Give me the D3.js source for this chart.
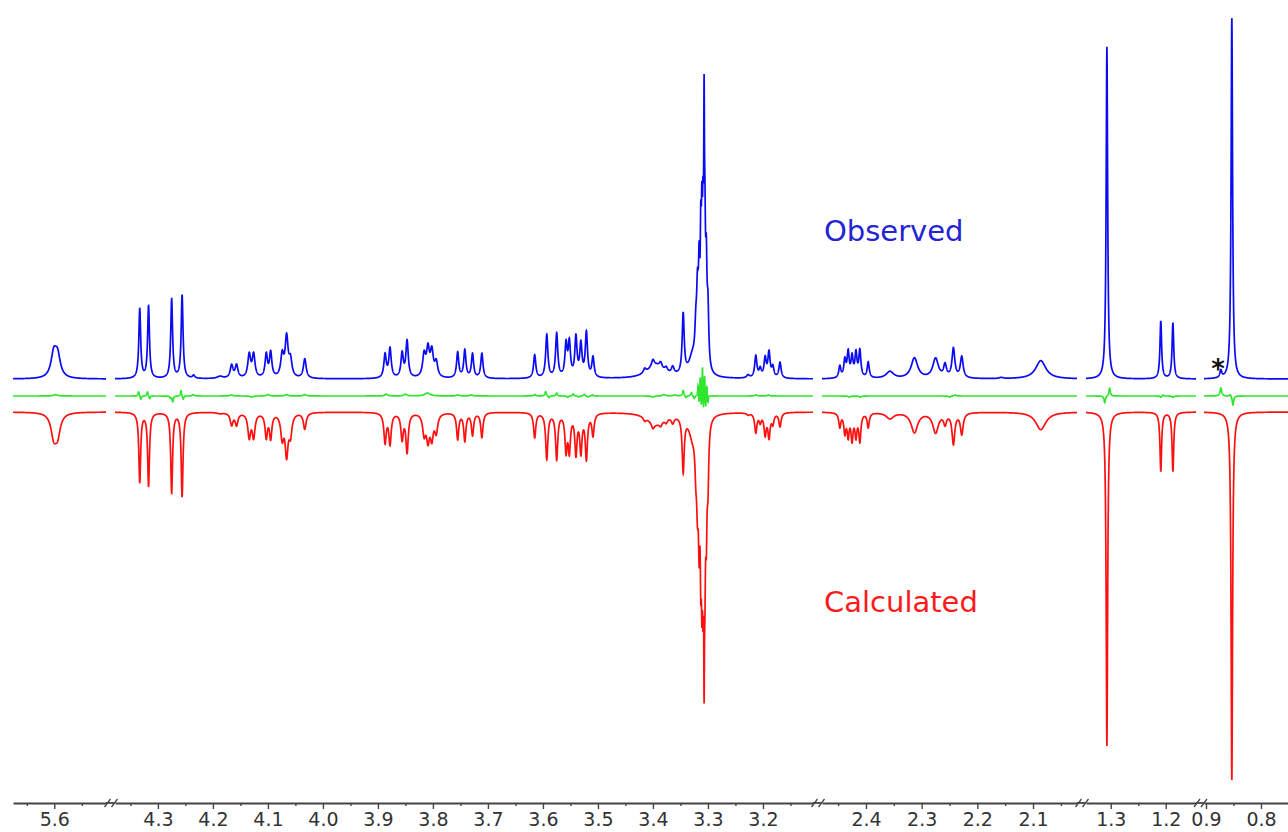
<!DOCTYPE html>
<html>
<head>
<meta charset="utf-8">
<script src="https://cdn.jsdelivr.net/npm/d3@7/dist/d3.min.js"></script>
<style>
  body { margin: 0; background: #fff; }
  svg { display: block; font-family: "DejaVu Sans", Verdana, sans-serif; }
</style>
</head>
<body>
<svg id="nmr" width="1288" height="832"></svg>
<script>
// chemical shift window (ppm) of each axis piece
var segmentPpm = [[5.675, 5.506], [4.378, 3.109], [2.479, 2.021], [1.345, 1.145], [0.9036, 0.7509]];

// tick labels and minor ticks per piece
var segmentTicks = [[5.6], [4.3, 4.2, 4.1, 4.0, 3.9, 3.8, 3.7, 3.6, 3.5, 3.4, 3.3, 3.2], [2.4, 2.3, 2.2, 2.1], [1.3, 1.2], [0.9, 0.8]];
var segmentMinor = [[5.65, 5.55], [4.35, 4.25, 4.15, 4.05, 3.95, 3.85, 3.75, 3.65, 3.55, 3.45, 3.35, 3.25, 3.15], [2.45, 2.35, 2.25, 2.15, 2.05], [1.25], [0.85]];

// peaks: [ppm, observed %, calculated %, half width ppm]
var peaks56 = [
  [5.601, 6.3, 6.0, 0.006], [5.594, 5.8, 5.6, 0.006]
];
var peaks43 = [
  [4.333, 19.0, 19.0, 0.002], [4.317, 19.8, 20.0, 0.002], [4.275, 21.7, 22.0, 0.002], [4.256, 22.8, 23.0, 0.002],
  [4.235, 0.8, 0, 0.0024], [4.187, 0.6, 0.3, 0.006],
  [4.166, 3.5, 3.3, 0.003], [4.157, 3.5, 3.3, 0.003], [4.134, 6.3, 6.5, 0.003], [4.126, 6.3, 6.5, 0.003],
  [4.103, 6.3, 6.5, 0.0026], [4.095, 6.8, 6.7, 0.0026], [4.074, 6.0, 6.5, 0.0032], [4.066, 10.8, 11.0, 0.0032],
  [4.059, 4.5, 5.5, 0.0032], [4.033, 5.3, 4.5, 0.003],
  [3.887, 6.4, 8.0, 0.0026], [3.878, 8.0, 8.4, 0.0026], [3.856, 6.6, 7.0, 0.0026], [3.847, 10.0, 10.6, 0.0026],
  [3.816, 6.0, 5.5, 0.0032], [3.809, 7.3, 6.8, 0.0032], [3.802, 6.8, 6.4, 0.0032], [3.794, 4.0, 5.0, 0.0032],
  [3.755, 7.0, 7.2, 0.0024], [3.742, 7.6, 7.6, 0.0024], [3.728, 6.6, 6.1, 0.0024], [3.711, 6.8, 6.8, 0.0024],
  [3.615, 6.4, 6.8, 0.0024], [3.593, 11.8, 12.6, 0.0024], [3.575, 12.0, 12.5, 0.0024], [3.558, 8.8, 9.8, 0.0024],
  [3.552, 9.2, 9.8, 0.0024], [3.540, 10.8, 10.8, 0.0024], [3.531, 8.8, 10.2, 0.0024], [3.521, 12.2, 12.2, 0.0024],
  [3.509, 5.5, 6.0, 0.0024],
  [3.395, 3.5, 3.0, 0.018], [3.415, 1.2, 1.0, 0.003], [3.400, 1.8, 1.5, 0.003], [3.386, 1.5, 1.2, 0.003],
  [3.376, 1.2, 1.2, 0.003], [3.364, 2.0, 1.8, 0.003], [3.345, 16.5, 15.0, 0.0022], [3.328, 5.0, 5.5, 0.008],
  [3.322, 8, 9, 0.002], [3.319, 18, 18, 0.002], [3.316, 22, 26, 0.0015], [3.313, 28, 30, 0.0012],
  [3.311, 30, 33, 0.0012], [3.309, 30, 34, 0.0012], [3.307, 55, 49, 0.0008], [3.3055, 28, 30, 0.0012],
  [3.303, 25, 25, 0.0015], [3.300, 15, 15, 0.0018],
  [3.227, 0.8, 0.5, 0.003], [3.213, 6.0, 5.3, 0.0024], [3.205, 2.3, 2.3, 0.0024], [3.196, 5.2, 5.7, 0.0024],
  [3.189, 6.8, 6.4, 0.0024], [3.182, 2.8, 2.8, 0.0024], [3.169, 4.3, 3.8, 0.0024]
];
var peaks24 = [
  [2.447, 3.2, 3.8, 0.0022], [2.438, 4.7, 5.2, 0.0022], [2.432, 6.8, 6.0, 0.0022], [2.425, 5.5, 7.0, 0.0022],
  [2.418, 6.5, 6.0, 0.0022], [2.411, 7.3, 7.5, 0.0022], [2.396, 4.3, 4.0, 0.0022],
  [2.357, 1.9, 1.7, 0.008], [2.313, 5.6, 5.5, 0.007], [2.275, 5.4, 5.5, 0.006], [2.258, 3.4, 2.8, 0.003],
  [2.243, 8.0, 8.4, 0.003], [2.228, 5.8, 5.8, 0.003], [2.157, 0.3, 0, 0.004], [2.086, 5.0, 4.8, 0.011]
];
var peaks13 = [
  [1.307, 91.0, 91.5, 0.0016], [1.209, 15.8, 16.2, 0.0018], [1.187, 15.3, 16.2, 0.0018]
];
var peaks09 = [
  [0.873, 2.0, 0, 0.002], [0.853, 99.0, 101.0, 0.0016]
];

// residual (observed - calculated) features: [ppm, %, half width ppm]
var residualLines = [
  [5.598, 0.4, 0.004],
  [4.335, 1.2, 0.0012], [4.331, -1.0, 0.0012], [4.319, 1.2, 0.0012], [4.315, -0.8, 0.0012],
  [4.277, -0.6, 0.0012], [4.273, -1.6, 0.0012], [4.258, 1.5, 0.0012], [4.254, -1.0, 0.0012],
  [4.236, 0.4, 0.002], [4.166, 0.3, 0.003], [4.13, -0.3, 0.003], [4.1, 0.4, 0.003], [4.066, 0.4, 0.003], [4.033, 0.4, 0.003],
  [3.885, 0.5, 0.003], [3.85, 0.5, 0.003], [3.81, 0.8, 0.006], [3.755, 0.3, 0.003], [3.73, 0.3, 0.003],
  [3.615, 0.4, 0.002], [3.595, 1.2, 0.0015], [3.589, -0.5, 0.0015], [3.575, 0.8, 0.0015], [3.555, -0.4, 0.0015],
  [3.545, 0.6, 0.0015], [3.535, -0.3, 0.0015], [3.525, 0.5, 0.0015], [3.518, -0.3, 0.0015], [3.51, 0.3, 0.0015],
  [3.40, -0.3, 0.003], [3.38, 0.4, 0.003], [3.36, 0.3, 0.003], [3.345, 1.5, 0.0015], [3.340, -0.6, 0.0015],
  [3.330, 1.0, 0.0015], [3.325, -0.8, 0.0015],
  [3.318, 3.0, 0.0007], [3.316, -2.5, 0.0007], [3.314, 5.5, 0.0007], [3.312, -3.8, 0.0007], [3.310, 8.5, 0.0007],
  [3.308, -4.4, 0.0007], [3.306, 6.0, 0.0007], [3.304, -3.5, 0.0007], [3.302, 3.0, 0.0007], [3.300, -2.0, 0.0007],
  [3.213, 0.3, 0.002], [3.19, 0.3, 0.002],
  [2.43, -0.3, 0.002], [2.41, -0.3, 0.002], [2.25, -0.3, 0.002], [2.24, 0.3, 0.002],
  [1.311, -1.9, 0.0015], [1.302, 2.2, 0.0015], [1.209, -0.4, 0.0015], [1.205, 0.3, 0.0015], [1.187, -0.4, 0.0015],
  [0.873, 2.2, 0.0018], [0.856, 0.5, 0.0015], [0.851, -2.5, 0.0015]
];

var segmentPeaks = [peaks56, peaks43, peaks24, peaks13, peaks09];

//Layout
var segX = [[13, 106], [115, 813], [822, 1077], [1086, 1196], [1204, 1288]];
var yObs = 379, yRes = 396, yCalc = 412, axisY = 803;
var amp = d3.scaleLinear().domain([0, 100]).range([0, 365]);

var svg = d3.select("#nmr");

//Sum of Lorentzian lines at a shift
function lorentz(ppm, list, col, wcol) {
  var s = 0;
  for (var i = 0; i < list.length; i++) {
    var d = (ppm - list[i][0]) / list[i][wcol];
    s += list[i][col] / (1 + d * d);
  }
  return s;
}

var traces = svg.append("g");
var axes = svg.append("g").attr("transform", "translate(0," + axisY + ")");

segmentPpm.forEach(function(dom, i) {
  var x = d3.scaleLinear().domain(dom).range(segX[i]);
  var n = Math.round((segX[i][1] - segX[i][0]) * 10);
  var pts = d3.range(n + 1).map(function(k) { return x.invert(segX[i][0] + k / 10); });
  var pk = segmentPeaks[i];

  var obsLine = d3.line()
    .x(function(p) { return x(p); })
    .y(function(p) { return yObs - amp(lorentz(p, pk, 1, 3)); });
  var calcLine = d3.line()
    .x(function(p) { return x(p); })
    .y(function(p) { return yCalc + amp(lorentz(p, pk, 2, 3)); });
  var resLine = d3.line()
    .x(function(p) { return x(p); })
    .y(function(p) { return yRes - amp(lorentz(p, residualLines, 1, 2)); });

  traces.append("path").datum(pts).attr("d", calcLine)
    .attr("fill", "none").attr("stroke", "#ff1010").attr("stroke-width", 1.7);
  traces.append("path").datum(pts).attr("d", resLine)
    .attr("fill", "none").attr("stroke", "#2ee62e").attr("stroke-width", 1.7);
  traces.append("path").datum(pts).attr("d", obsLine)
    .attr("fill", "none").attr("stroke", "#0a0af5").attr("stroke-width", 1.7);

  //Major ticks with labels
  var g = axes.append("g").call(d3.axisBottom(x)
    .tickValues(segmentTicks[i])
    .tickFormat(d3.format(".1f"))
    .tickSize(6).tickSizeOuter(0).tickPadding(4));
  g.select(".domain").attr("stroke", "#444").attr("stroke-width", 1.8);
  g.selectAll(".tick line").attr("stroke", "#444").attr("stroke-width", 1.4);
  g.selectAll(".tick text").attr("fill", "#333").style("font-size", "19px")
    .style("font-family", "'DejaVu Sans', Verdana, sans-serif");

  //Minor ticks
  var m = axes.append("g").call(d3.axisBottom(x)
    .tickValues(segmentMinor[i]).tickFormat("").tickSize(3).tickSizeOuter(0));
  m.select(".domain").remove();
  m.selectAll(".tick line").attr("stroke", "#444").attr("stroke-width", 1.4);

  //Break marks between pieces
  if (i < segmentPpm.length - 1) {
    var a = segX[i][1], b = segX[i + 1][0], c = (a + b) / 2;
    axes.append("line").attr("x1", a).attr("x2", b).attr("y1", 0).attr("y2", 0)
      .attr("stroke", "#444").attr("stroke-width", 1.8);
    [-6, 1].forEach(function(o) {
      axes.append("line")
        .attr("x1", c + o).attr("y1", 4).attr("x2", c + o + 6).attr("y2", -4)
        .attr("stroke", "#444").attr("stroke-width", 1.3);
    });
  }
});

//Trace labels
svg.append("text").attr("x", 824).attr("y", 241).text("Observed")
  .attr("fill", "#2424d4").style("font-size", "29px");
svg.append("text").attr("x", 824).attr("y", 612).text("Calculated")
  .attr("fill", "#ff1a1a").style("font-size", "29px");

//Impurity mark
svg.append("text").attr("x", 1218).attr("y", 378).attr("text-anchor", "middle").text("*")
  .attr("fill", "#111").style("font-size", "26px").style("font-weight", "bold");
</script>
</body>
</html>
